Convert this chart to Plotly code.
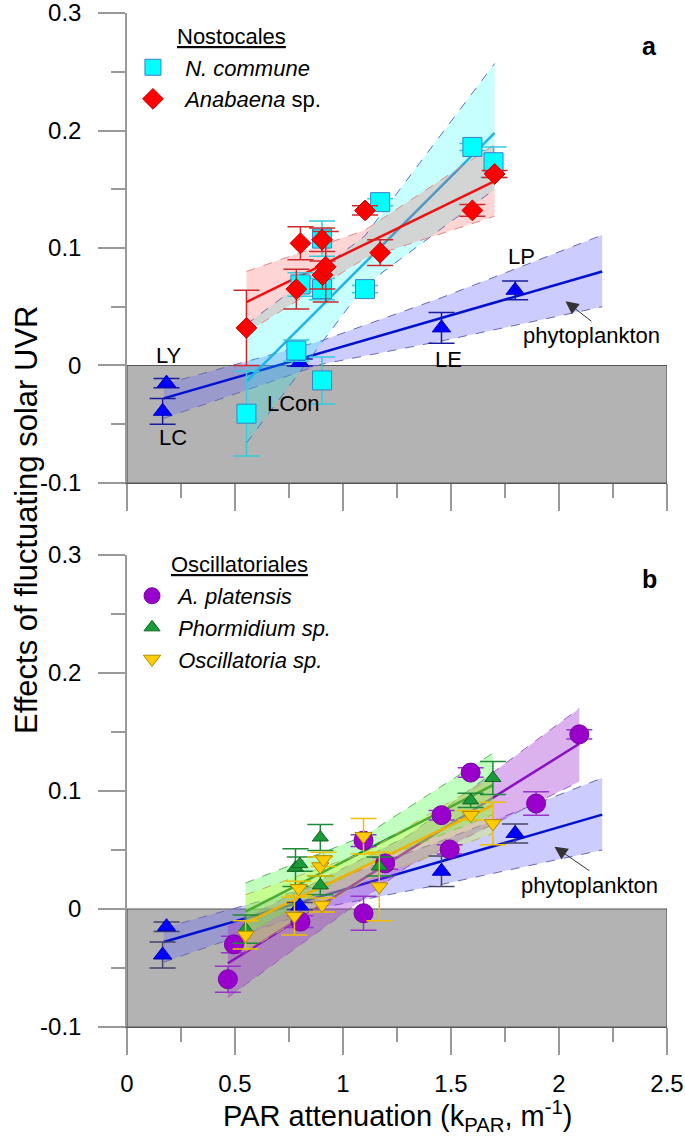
import plotly.graph_objects as go

FONT = "Liberation Sans, Arial, Helvetica, sans-serif"

# ---------------- data: panel a ----------------
phyto_x = [0.183, 0.165, 0.80, 1.456, 1.797]
phyto_y = [-0.015, -0.039, 0.0025, 0.032, 0.064]
phyto_err = [0.004, 0.011, 0.003, 0.013, 0.008]
phyto_line_x = [0.17, 2.2]
phyto_line_y = [-0.028, 0.080]
phyto_band_x = [0.17, 0.9, 1.46, 2.2]
phyto_band_hi = [-0.016, 0.021, 0.058, 0.111]
phyto_band_lo = [-0.045, 0.001, 0.021, 0.050]

ncom_x = [0.553, 0.784, 0.903, 0.803, 0.903, 0.903, 1.102, 1.172, 1.599, 1.697]
ncom_y = [-0.041, 0.0127, -0.0127, 0.069, 0.065, 0.108, 0.065, 0.139, 0.186, 0.173]
ncom_err = [0.036, 0.009, 0.020, 0.010, 0.009, 0.015, 0.003, 0.003, 0.003, 0.013]
ncom_line_x = [0.553, 1.702]
ncom_line_y = [-0.0135, 0.198]
ncom_band_x = [0.553, 1.1, 1.702]
ncom_band_hi = [0.035, 0.110, 0.257]
ncom_band_lo = [-0.066, 0.068, 0.150]

anab_x = [0.553, 0.784, 0.803, 0.903, 0.905, 0.920, 1.102, 1.172, 1.599, 1.702]
anab_y = [0.032, 0.065, 0.104, 0.107, 0.077, 0.084, 0.132, 0.096, 0.132, 0.163]
anab_err = [0.032, 0.017, 0.014, 0.010, 0.012, 0.030, 0.004, 0.011, 0.005, 0.003]
anab_line_x = [0.553, 1.702]
anab_line_y = [0.054, 0.157]
anab_band_x = [0.553, 1.1, 1.702]
anab_band_hi = [0.080, 0.115, 0.188]
anab_band_lo = [0.028, 0.091, 0.127]

# ---------------- data: panel b ----------------
plat_x = [0.467, 0.495, 0.803, 1.095, 1.095, 1.195, 1.456, 1.494, 1.591, 1.894, 2.094]
plat_y = [-0.0595, -0.030, -0.0107, -0.0036, 0.058, 0.0386, 0.0795, 0.0505, 0.1156, 0.0894, 0.148]
plat_err = [0.011, 0.007, 0.005, 0.0145, 0.005, 0.005, 0.004, 0.004, 0.004, 0.010, 0.004]
plat_line_x = [0.467, 2.094]
plat_line_y = [-0.046, 0.140]
plat_band_x = [0.467, 1.3, 2.094]
plat_band_hi = [-0.015, 0.062, 0.170]
plat_band_lo = [-0.075, 0.036, 0.108]

phor_x = [0.549, 0.780, 0.800, 0.895, 0.895, 1.168, 1.591, 1.694]
phor_y = [-0.017, 0.035, 0.038, 0.0606, 0.020, 0.036, 0.092, 0.111]
phor_err = [0.012, 0.016, 0.006, 0.011, 0.008, 0.008, 0.006, 0.014]
phor_line_x = [0.549, 1.694]
phor_line_y = [-0.0023, 0.105]
phor_band_x = [0.549, 1.1, 1.694]
phor_band_hi = [0.022, 0.062, 0.132]
phor_band_lo = [-0.022, 0.037, 0.080]

osc_x = [0.549, 0.775, 0.795, 0.895, 0.903, 0.910, 1.095, 1.168, 1.591, 1.694]
osc_y = [-0.022, -0.006, 0.0175, 0.036, 0.0034, 0.042, 0.0617, 0.019, 0.0795, 0.0725]
osc_err = [0.012, 0.016, 0.006, 0.008, 0.006, 0.006, 0.015, 0.029, 0.004, 0.018]
osc_line_x = [0.549, 1.694]
osc_line_y = [-0.012, 0.088]
osc_band_x = [0.549, 1.1, 1.694]
osc_band_hi = [0.012, 0.048, 0.112]
osc_band_lo = [-0.036, 0.024, 0.064]

# ---------------- ticks ----------------
x_ticks = [0, 0.5, 1, 1.5, 2, 2.5]
x_ticklabels = ["0", "0.5", "1", "1.5", "2", "2.5"]
y_ticks = [-0.1, 0, 0.1, 0.2, 0.3]
y_ticklabels = ["-0.1", "0", "0.1", "0.2", "0.3"]

site_labels = ["LY", "LC", "LCon", "LE", "LP"]
site_label_x = [0.194, 0.211, 0.772, 1.487, 1.825]
site_label_y = [0.0085, -0.0615, -0.032, 0.005, 0.093]

fig = go.Figure()


def add_fit(bx, lo, hi, lx, ly, fill, edge, lcolor, xa, ya):
    fig.add_trace(go.Scatter(x=bx + bx[::-1], y=hi + lo[::-1], fill="toself",
                             fillcolor=fill, mode="lines", line=dict(width=0),
                             hoverinfo="skip", showlegend=False, xaxis=xa, yaxis=ya))
    for ey in (hi, lo):
        fig.add_trace(go.Scatter(x=bx, y=ey, mode="lines",
                                 line=dict(color=edge, width=1, dash="dash"),
                                 hoverinfo="skip", showlegend=False, xaxis=xa, yaxis=ya))
    fig.add_trace(go.Scatter(x=lx, y=ly, mode="lines", line=dict(color=lcolor, width=2.5),
                             hoverinfo="skip", showlegend=False, xaxis=xa, yaxis=ya))


def add_pts(x, y, err, name, symbol, size, color, lcol, ecol, xa, ya, legend=None, show=False):
    fig.add_trace(go.Scatter(
        x=x, y=y, mode="markers", name=name,
        error_y=dict(type="data", array=err, visible=True, color=ecol, thickness=1.5, width=13),
        marker=dict(symbol=symbol, size=size, color=color, line=dict(color=lcol, width=1)),
        xaxis=xa, yaxis=ya, legend=legend if legend else "legend", showlegend=show))


# panel a
add_fit(phyto_band_x, phyto_band_lo, phyto_band_hi, phyto_line_x, phyto_line_y,
        "rgba(110,110,255,0.35)", "#6a6ab0", "#0010d0", "x", "y")
add_fit(ncom_band_x, ncom_band_lo, ncom_band_hi, ncom_line_x, ncom_line_y,
        "rgba(0,255,255,0.22)", "#5570cc", "#1eb4e6", "x", "y")
add_fit(anab_band_x, anab_band_lo, anab_band_hi, anab_line_x, anab_line_y,
        "rgba(255,60,60,0.22)", "#e08888", "#ee1111", "x", "y")
add_pts(phyto_x, phyto_y, phyto_err, "phytoplankton", "triangle-up", 16, "#0000ff", "#0000c0",
        "#1a1aa0", "x", "y")
add_pts(ncom_x, ncom_y, ncom_err, "\u00a0\u00a0<i>N. commune</i>", "square", 19, "#00ffff", "#3a7fc8",
        "#33ccdd", "x", "y", "legend", True)
add_pts(anab_x, anab_y, anab_err, "\u00a0\u00a0<i>Anabaena</i> sp.", "diamond", 16, "#ff0000", "#cc0000",
        "#cc2a2a", "x", "y", "legend", True)

# panel b
add_fit(phyto_band_x, phyto_band_lo, phyto_band_hi, phyto_line_x, phyto_line_y,
        "rgba(110,110,255,0.35)", "#6a6ab0", "#0010d0", "x2", "y2")
add_fit(plat_band_x, plat_band_lo, plat_band_hi, plat_line_x, plat_line_y,
        "rgba(160,50,210,0.38)", "#9a60c0", "#8a10c0", "x2", "y2")
add_fit(phor_band_x, phor_band_lo, phor_band_hi, phor_line_x, phor_line_y,
        "rgba(60,255,60,0.32)", "#60b060", "#118833", "x2", "y2")
add_fit(osc_band_x, osc_band_lo, osc_band_hi, osc_line_x, osc_line_y,
        "rgba(210,255,40,0.30)", "#c0b060", "#f0b000", "x2", "y2")
add_pts(phyto_x, phyto_y, phyto_err, "phytoplankton", "triangle-up", 16, "#0000ff", "#0000c0",
        "#444466", "x2", "y2")
add_pts(plat_x, plat_y, plat_err, "\u00a0<i>A. platensis</i>", "circle", 19, "#9900cc", "#7a00a8",
        "#9933cc", "x2", "y2", "legend2", True)
add_pts(phor_x, phor_y, phor_err, "\u00a0<i>Phormidium sp.</i>", "triangle-up", 14, "#1a9a3a", "#116622",
        "#1f8a3a", "x2", "y2", "legend2", True)
add_pts(osc_x, osc_y, osc_err, "\u00a0<i>Oscillatoria sp.</i>", "triangle-down", 15, "#ffcc00", "#b08800",
        "#f0c000", "x2", "y2", "legend2", True)

# grey negative region
for xr, yr in (("x", "y"), ("x2", "y2")):
    fig.add_shape(type="rect", xref=xr, yref=yr, x0=0, x1=2.5, y0=-0.1, y1=0,
                  fillcolor="#b3b3b3", line=dict(color="#555555", width=1.2), layer="below")

tickfont = dict(size=24, color="black", family=FONT)
xcommon = dict(range=[0, 2.5], showline=True, linecolor="#555555", linewidth=1.2,
               ticks="outside", ticklen=27, tickwidth=1.5, tickcolor="#999999",
               tickmode="array", tickvals=x_ticks, ticktext=x_ticklabels,
               minor=dict(tickmode="linear", tick0=0, dtick=0.25, ticks="outside",
                          ticklen=14, tickwidth=1.5, tickcolor="#999999"),
               showgrid=False, zeroline=False, tickfont=tickfont, ticklabelstandoff=8,
               automargin=False, ticklabeloverflow="allow")
ycommon = dict(range=[-0.1, 0.3], showline=True, linecolor="#999999", linewidth=1.5,
               ticks="outside", ticklen=27, tickwidth=1.5, tickcolor="#999999",
               tickmode="array", tickvals=y_ticks, ticktext=y_ticklabels,
               minor=dict(tickmode="linear", tick0=0, dtick=0.05, ticks="outside",
                          ticklen=14, tickwidth=1.5, tickcolor="#999999"),
               showgrid=False, zeroline=False, tickfont=tickfont, ticklabelstandoff=12,
               automargin=False, ticklabeloverflow="allow")

fig.update_layout(
    width=685, height=1140,
    margin=dict(l=127, r=18, t=13, b=113, autoexpand=False),
    paper_bgcolor="white", plot_bgcolor="white",
    font=dict(family=FONT, color="black"),
    xaxis=dict(domain=[0, 1], anchor="y", showticklabels=False, **xcommon),
    yaxis=dict(domain=[0.5365, 1], anchor="x", **ycommon),
    xaxis2=dict(domain=[0, 1], anchor="y2", showticklabels=True, **xcommon),
    yaxis2=dict(domain=[0, 0.4655], anchor="x2", **ycommon),
    legend=dict(x=0.011, y=0.967, xanchor="left", yanchor="top",
                font=dict(size=22, family=FONT, color="black"), bgcolor="rgba(0,0,0,0)",
                tracegroupgap=0),
    legend2=dict(x=0.0093, y=0.4458, xanchor="left", yanchor="top",
                 font=dict(size=22, family=FONT, color="black"), bgcolor="rgba(0,0,0,0)",
                 tracegroupgap=0),
    showlegend=True,
)

ann = []
for t, lx, ly in zip(site_labels, site_label_x, site_label_y):
    ann.append(dict(x=lx, y=ly, xref="x", yref="y", text=t, showarrow=False,
                    font=dict(size=22, family=FONT, color="black")))
# phytoplankton labels with arrows (head at the point, text hanging below the tail)
for xr, yr, hx, hy, axp, ayp in (("x", "y", 2.03, 0.0547, 26, 20),
                                  ("x2", "y2", 1.979, 0.0527, 35, 24)):
    ann.append(dict(x=hx, y=hy, xref=xr, yref=yr, text="phytoplankton", showarrow=True,
                    ax=axp, ay=ayp, xanchor="center", yanchor="top",
                    arrowhead=2, arrowsize=2.6, arrowwidth=1.0, arrowcolor="#333333", standoff=0,
                    font=dict(size=22, family=FONT, color="black")))
ann.append(dict(x=2.42, y=0.272, xref="x", yref="y", text="<b>a</b>", showarrow=False,
                font=dict(size=25, family=FONT, color="black")))
ann.append(dict(x=2.42, y=0.28, xref="x2", yref="y2", text="<b>b</b>", showarrow=False,
                font=dict(size=25, family=FONT, color="black")))
ann.append(dict(x=0.1944, y=0.9773, xref="paper", yref="paper", text="<u>Nostocales</u>",
                xanchor="center", yanchor="middle",
                showarrow=False, font=dict(size=22, family=FONT, color="black")))
ann.append(dict(x=0.208, y=0.4563, xref="paper", yref="paper", text="<u>Oscillatoriales</u>",
                xanchor="center", yanchor="middle",
                showarrow=False, font=dict(size=22, family=FONT, color="black")))
ann.append(dict(x=-0.187, y=0.5, xref="paper", yref="paper", text="Effects of fluctuating solar UVR",
                textangle=-90, showarrow=False, xanchor="center", yanchor="middle",
                font=dict(size=31, family=FONT, color="black")))
ann.append(dict(x=0.5, y=-0.0878, xref="paper", yref="paper",
                text="PAR attenuation (k<sub>PAR</sub>, m<sup>-1</sup>)",
                showarrow=False, xanchor="center", yanchor="middle",
                font=dict(size=29, family=FONT, color="black")))
fig.update_layout(annotations=ann)

fig.write_html("out.html", config={"displayModeBar": False},
               post_script="document.body.style.margin='0px';document.body.style.overflow='hidden';")
